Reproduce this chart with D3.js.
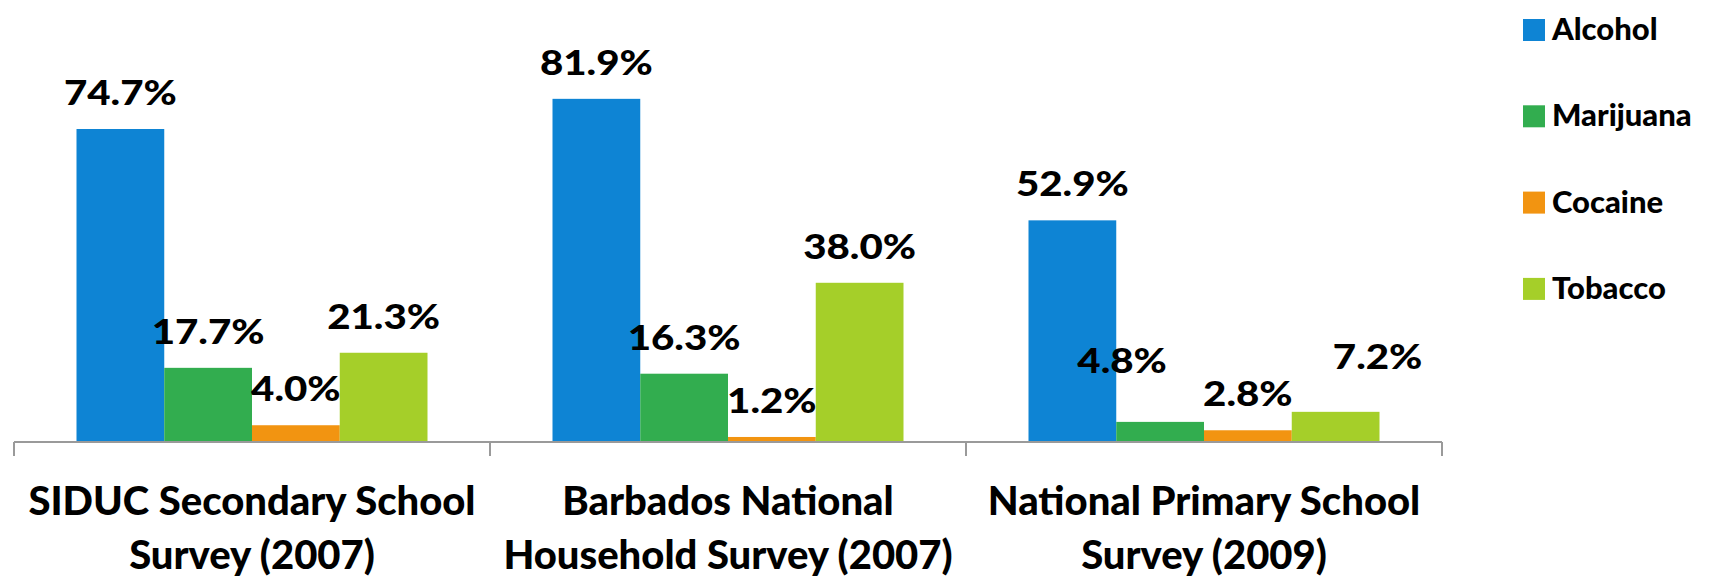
<!DOCTYPE html>
<html>
<head>
<meta charset="utf-8">
<script src="https://cdn.jsdelivr.net/npm/d3@7"></script>
<style>
  body { margin: 0; background: #fff; }
  text { font-family: Lato, "Open Sans", sans-serif; font-weight: 900; fill: #000; }
</style>
</head>
<body>
<div id="chart"></div>
<script>
var surveys = [
  ['SIDUC Secondary School', 'Survey (2007)'],
  ['Barbados National', 'Household Survey (2007)'],
  ['National Primary School', 'Survey (2009)']
];
var substances = ['Alcohol', 'Marijuana', 'Cocaine', 'Tobacco'];
var colors = ['#0e84d4', '#32ad4f', '#f29411', '#a5cf29'];

var alcohol = [74.7, 81.9, 52.9];
var marijuana = [17.7, 16.3, 4.8];
var cocaine = [4.0, 1.2, 2.8];
var tobacco = [21.3, 38.0, 7.2];

var seriesValues = [alcohol, marijuana, cocaine, tobacco];

var w = 1709, h = 577;
var left = 14, right = 1442, base = 442;

// a couple of data labels were dragged by hand in the original
var nudge = { '2-Marijuana': [-38, -25], '2-Tobacco': [42, -19] };

var svg = d3.select('#chart').append('svg')
  .attr('width', w)
  .attr('height', h);

var x0 = d3.scaleBand()
  .domain(d3.range(surveys.length))
  .range([left, right])
  .paddingInner(0.2626)
  .paddingOuter(0.1313);

var x1 = d3.scaleBand()
  .domain(substances)
  .range([0, x0.bandwidth()]);

var y = d3.scaleLinear()
  .domain([0, 100])
  .range([base, base - 419]);

var color = d3.scaleOrdinal().domain(substances).range(colors);

// flat list of bars
var bars = [];
surveys.forEach(function(s, i) {
  substances.forEach(function(name, k) {
    bars.push({ group: i, name: name, value: seriesValues[k][i] });
  });
});

svg.selectAll('rect.bar')
  .data(bars)
  .enter().append('rect')
  .attr('class', 'bar')
  .attr('x', function(d) { return x0(d.group) + x1(d.name); })
  .attr('y', function(d) { return y(d.value); })
  .attr('width', x1.bandwidth())
  .attr('height', function(d) { return base - y(d.value); })
  .style('fill', function(d) { return color(d.name); });

// labels are a bit stretched sideways like the source image
svg.selectAll('text.val')
  .data(bars)
  .enter().append('text')
  .attr('class', 'val')
  .attr('transform', function(d) {
    var n = nudge[d.group + '-' + d.name] || [0, 0];
    var tx = x0(d.group) + x1(d.name) + x1.bandwidth() / 2 + n[0];
    var ty = y(d.value) - 24 + n[1];
    return 'translate(' + tx + ',' + ty + ') scale(1.15,1)';
  })
  .attr('text-anchor', 'middle')
  .style('font-size', '35px')
  .text(function(d) { return d.value.toFixed(1) + '%'; });

// category axis with ticks between groups
var step = x0.step();
var ticks = d3.range(surveys.length + 1).map(function(i) { return left + i * step; });

svg.append('line')
  .attr('x1', left).attr('x2', right)
  .attr('y1', base).attr('y2', base)
  .style('stroke', '#9a9a9a')
  .style('stroke-width', 2);

svg.selectAll('line.tick')
  .data(ticks)
  .enter().append('line')
  .attr('class', 'tick')
  .attr('x1', function(d) { return d; }).attr('x2', function(d) { return d; })
  .attr('y1', base).attr('y2', base + 14)
  .style('stroke', '#9a9a9a')
  .style('stroke-width', 2);

var cat = svg.selectAll('text.cat')
  .data(surveys)
  .enter().append('text')
  .attr('class', 'cat')
  .attr('text-anchor', 'middle')
  .style('font-size', '40px');

cat.selectAll('tspan')
  .data(function(d, i) { return d.map(function(line, j) { return { line: line, i: i, j: j }; }); })
  .enter().append('tspan')
  .attr('x', function(d) { return x0(d.i) + x0.bandwidth() / 2; })
  .attr('y', function(d) { return 515 + d.j * 54; })
  .text(function(d) { return d.line; });

// legend
var legend = svg.selectAll('g.legend')
  .data(substances)
  .enter().append('g')
  .attr('class', 'legend')
  .attr('transform', function(d, i) { return 'translate(1523,' + (19 + i * 86.3) + ')'; });

legend.append('rect')
  .attr('width', 22).attr('height', 22)
  .style('fill', function(d) { return color(d); });

legend.append('text')
  .attr('x', 29).attr('y', 21)
  .style('font-size', '31px')
  .text(function(d) { return d; });
</script>
</body>
</html>
